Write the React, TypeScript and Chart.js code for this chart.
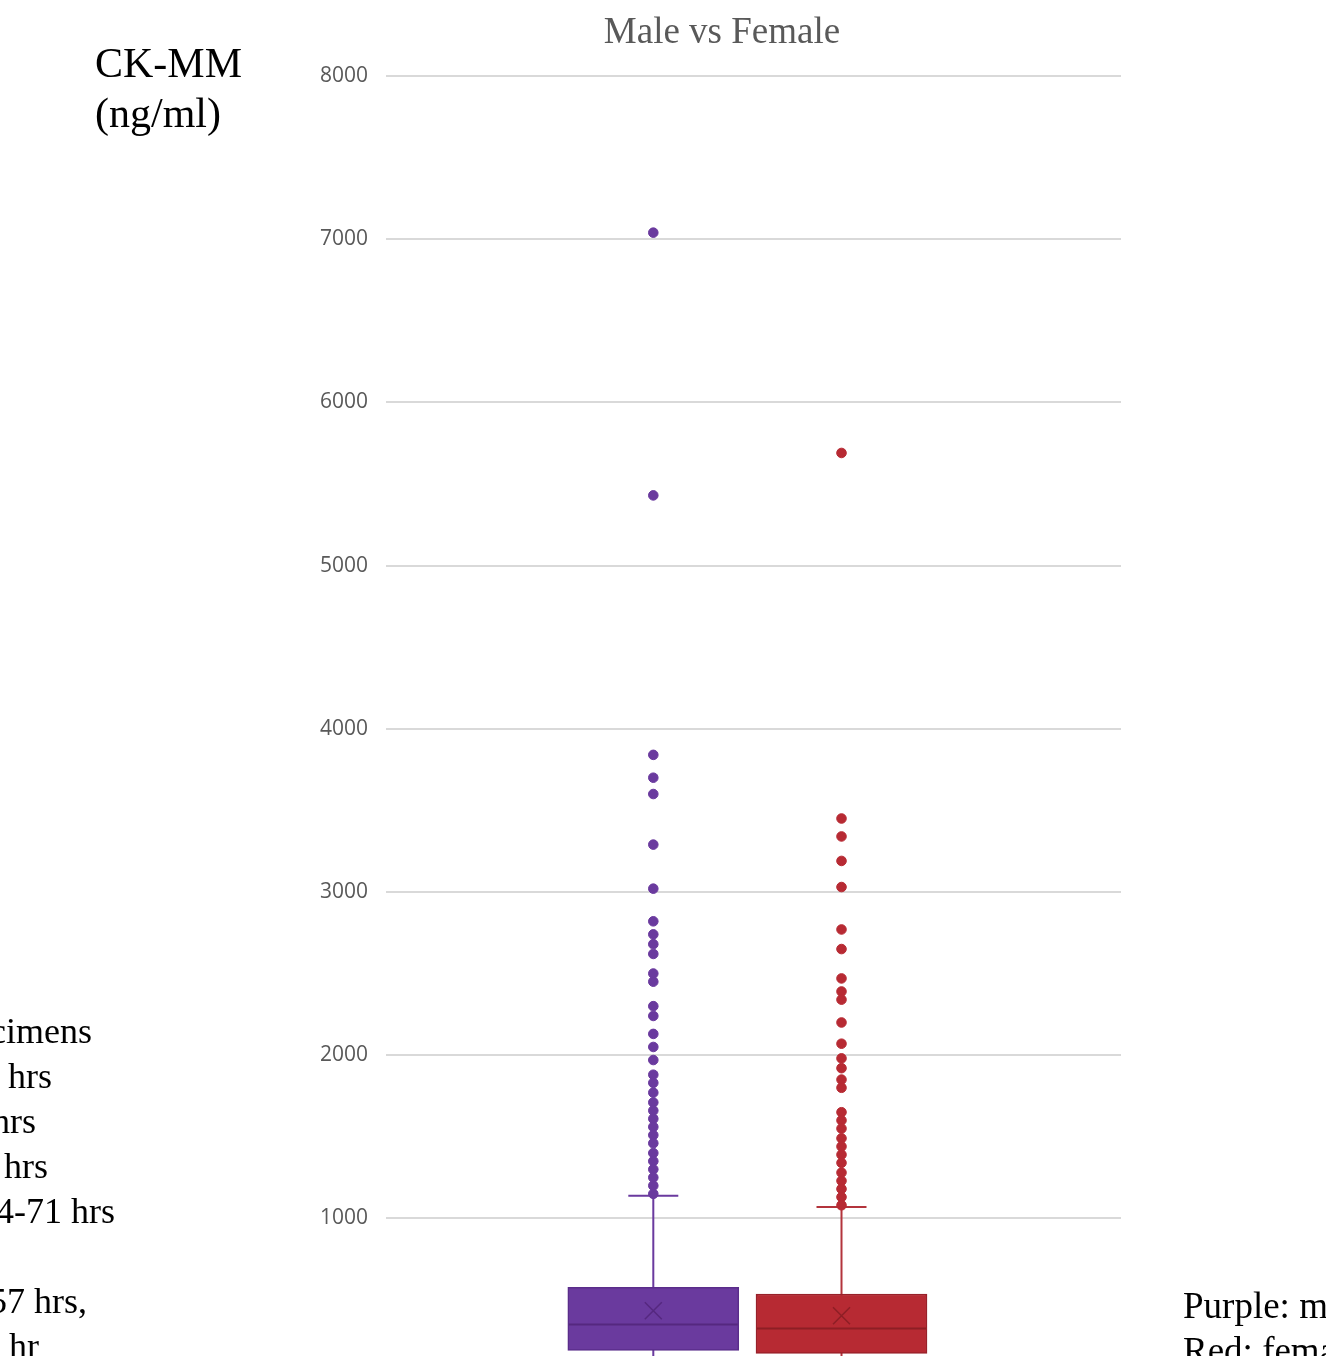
import React, { useEffect, useRef } from "react";
import { Chart, registerables } from "chart.js";

Chart.register(...registerables);

// ---- data ----
const groups = ["Male", "Female"];
const q1 = [190, 172];
const median = [350, 325];
const q3 = [577, 536];
const mean = [434, 403];
const whiskerLow = [30, 25];
const whiskerHigh = [1139, 1069];
const maleOutliers = [
  7040, 5430, 3840, 3700, 3600, 3290, 3020, 2820, 2740, 2680, 2620, 2500, 2450,
  2300, 2240, 2130, 2050, 1970, 1880, 1830, 1770, 1710, 1660, 1610, 1560, 1510,
  1460, 1400, 1350, 1300, 1250, 1200, 1150,
];
const femaleOutliers = [
  5690, 3450, 3340, 3190, 3030, 2770, 2650, 2470, 2390, 2340, 2200, 2070, 1980,
  1920, 1850, 1800, 1650, 1600, 1550, 1490, 1440, 1390, 1340, 1280, 1230, 1180,
  1130, 1080,
];
const outliers = [maleOutliers, femaleOutliers];
const yTickStep = 1000;
const yMin = 0;
const yMax = 8000;
const chartTitle = "Male vs Female";

// ---- styles ----
const fillColors = ["#6A3A9E", "#B72A33"];
const borderColors = ["#5A2D8A", "#98212A"];
const darkColors = ["#55287F", "#8E1E25"];
const whiskerColors = ["#6A3A9E", "#B3343C"];

const leftLines = [
  { text: "cimens", end: 92 },
  { text: "hrs", end: 52 },
  { text: "hrs", end: 36 },
  { text: "hrs", end: 48 },
  { text: "4-71 hrs", end: 115 },
  { text: "", end: 0 },
  { text: "57 hrs,", end: 87 },
  { text: "hr", end: 39 },
];

const boxExtras = {
  id: "boxExtras",
  beforeDatasetsDraw(chart: any) {
    const { ctx, scales } = chart;
    const x = scales.x;
    const y = scales.y;
    groups.forEach((_, i) => {
      const cx = x.getPixelForValue(i + 1);
      const yLo = y.getPixelForValue(whiskerLow[i]);
      const yHi = y.getPixelForValue(whiskerHigh[i]);
      ctx.save();
      ctx.strokeStyle = whiskerColors[i];
      ctx.lineWidth = 2;
      ctx.beginPath();
      ctx.moveTo(cx, yLo);
      ctx.lineTo(cx, yHi);
      ctx.moveTo(cx - 25, yHi);
      ctx.lineTo(cx + 25, yHi);
      ctx.moveTo(cx - 25, yLo);
      ctx.lineTo(cx + 25, yLo);
      ctx.stroke();
      ctx.restore();
    });
  },
  afterDatasetsDraw(chart: any) {
    const { ctx, scales } = chart;
    const y = scales.y;
    groups.forEach((_, i) => {
      const meta = chart.getDatasetMeta(i);
      const bar = meta.data[0];
      if (!bar) return;
      const half = bar.width / 2;
      const cx = bar.x;
      const ym = y.getPixelForValue(median[i]);
      ctx.save();
      ctx.strokeStyle = darkColors[i];
      ctx.lineWidth = 2;
      ctx.beginPath();
      ctx.moveTo(cx - half + 1, ym);
      ctx.lineTo(cx + half - 1, ym);
      ctx.stroke();
      ctx.restore();
    });
  },
};

export default function App() {
  const canvasRef = useRef<HTMLCanvasElement | null>(null);

  useEffect(() => {
    if (!canvasRef.current) return;
    const datasets: any[] = [];
    groups.forEach((g, i) => {
      datasets.push({
        type: "bar",
        label: g,
        data: [{ x: i + 1, y: [q1[i], q3[i]] }],
        backgroundColor: fillColors[i],
        borderColor: borderColors[i],
        borderWidth: 1.5,
        borderSkipped: false,
        barThickness: 171,
        grouped: false,
        order: 3,
      });
    });
    groups.forEach((g, i) => {
      datasets.push({
        type: "scatter",
        label: g + " outliers",
        data: outliers[i].map((v) => ({ x: i + 1, y: v })),
        backgroundColor: fillColors[i],
        borderColor: fillColors[i],
        borderWidth: 1,
        pointRadius: 4.8,
        order: 1,
      });
    });
    groups.forEach((g, i) => {
      datasets.push({
        type: "scatter",
        label: g + " mean",
        data: [{ x: i + 1, y: mean[i] }],
        pointStyle: "crossRot",
        pointRadius: 12,
        borderColor: darkColors[i],
        backgroundColor: darkColors[i],
        borderWidth: 1.5,
        order: 0,
      });
    });

    const chart = new Chart(canvasRef.current, {
      type: "bar",
      data: { datasets },
      options: {
        responsive: false,
        animation: false,
        events: [],
        layout: { padding: { left: 0, right: 205, top: 76, bottom: 0 } },
        plugins: {
          legend: { display: false },
          tooltip: { enabled: false },
          title: { display: false },
        },
        scales: {
          x: {
            type: "linear",
            display: false,
            min: -0.4203,
            max: 3.4851,
            offset: false,
          },
          y: {
            min: yMin,
            max: yMax,
            border: { display: false },
            grid: { color: "#d9d9d9", lineWidth: 2, drawTicks: false },
            ticks: {
              stepSize: yTickStep,
              padding: 18,
              color: "#595959",
              font: { family: "Open Sans", size: 21 },
              callback: (v: any) => String(v),
            },
            afterFit: (scale: any) => {
              scale.width = 386;
              scale.paddingTop = 0;
              scale.paddingBottom = 0;
            },
          },
        },
      } as any,
      plugins: [boxExtras],
    });
    return () => chart.destroy();
  }, []);

  return (
    <div
      style={{
        position: "fixed",
        left: 0,
        top: 0,
        width: 1326,
        height: 1356,
        overflow: "hidden",
        background: "#ffffff",
      }}
    >
      <canvas
        ref={canvasRef}
        width={1326}
        height={1395}
        style={{ position: "absolute", left: 0, top: 0, display: "block" }}
      />
      <div
        style={{
          position: "absolute",
          left: 322,
          top: 9,
          width: 800,
          textAlign: "center",
          fontFamily: "'Liberation Serif', serif",
          fontSize: 37,
          lineHeight: "44px",
          color: "#595959",
          whiteSpace: "nowrap",
        }}
      >
        {chartTitle}
      </div>
      <div
        style={{
          position: "absolute",
          left: 95,
          top: 38,
          fontFamily: "'Liberation Serif', serif",
          fontSize: 42,
          lineHeight: "50px",
          color: "#000",
          whiteSpace: "nowrap",
        }}
      >
        <div>CK-MM</div>
        <div>(ng/ml)</div>
      </div>
      {leftLines.map((l, i) =>
        l.text ? (
          <div
            key={i}
            style={{
              position: "absolute",
              right: 1326 - l.end,
              top: 1009 + i * 45,
              fontFamily: "'Liberation Serif', serif",
              fontSize: 36,
              lineHeight: "45px",
              color: "#000",
              whiteSpace: "nowrap",
            }}
          >
            {l.text}
          </div>
        ) : null
      )}
      <div
        style={{
          position: "absolute",
          left: 1183,
          top: 1283,
          fontFamily: "'Liberation Serif', serif",
          fontSize: 37,
          lineHeight: "45px",
          color: "#000",
          whiteSpace: "nowrap",
        }}
      >
        <div>Purple: male</div>
        <div>Red: female</div>
      </div>
    </div>
  );
}
